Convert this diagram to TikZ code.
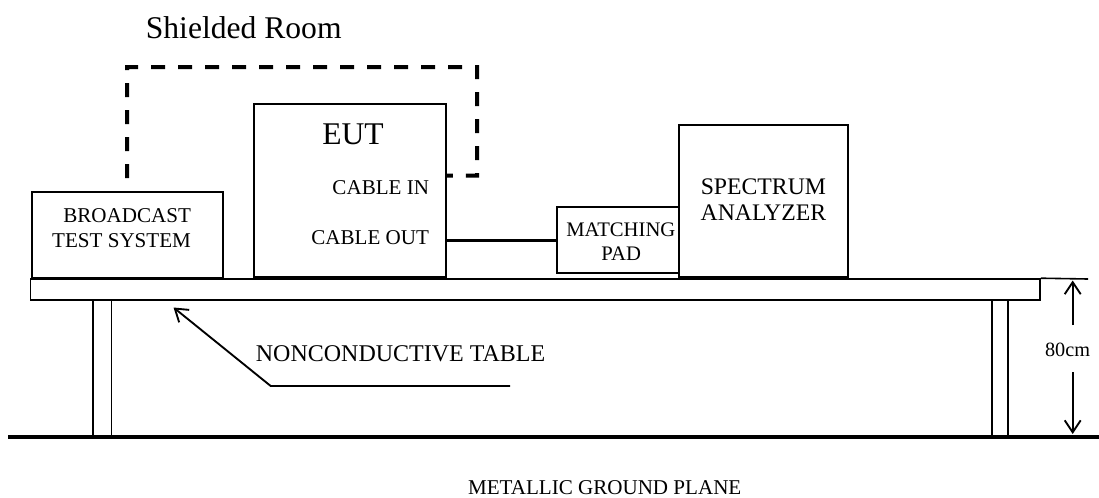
\documentclass[tikz,border=0pt]{standalone}
\usepackage{fontspec}
\setmainfont{Liberation Serif}
\usetikzlibrary{arrows.meta,calc}
\begin{document}
\begin{tikzpicture}[x=0.75pt,y=-0.75pt,
  box/.style={draw,line width=1.5pt,inner sep=0pt,minimum width=#1},
  tablepart/.style={draw,line width=1.2pt,inner sep=0pt},
  lbl/.style={inner sep=0pt,font=\fontsize{15.8}{19}\selectfont},
  midlbl/.style={inner sep=0pt,font=\fontsize{17.8}{21}\selectfont},
  biglbl/.style={inner sep=0pt,font=\fontsize{23.7}{28}\selectfont},
  room/.style={line width=3pt,dash pattern=on 10.5pt off 9.75pt,dash phase=10.5pt},
  cable/.style={line width=2.6pt},
  pointer/.style={line width=1.4pt,-{Straight Barb[length=9pt,width=12pt]}},
]
\useasboundingbox (0,0) rectangle (1099,497);

% equipment boxes
\node[box=143.25pt,minimum height=64.5pt] (bts) at (127.2,235) {};
\node[box=143.8pt,minimum height=129.5pt] (eut) at (349.85,190.35) {};
\node[box=91.5pt,minimum height=49.5pt] (pad) at (618.3,240.3) {};
\node[box=126.5pt,minimum height=113.8pt] (sa) at (763.35,200.85) {};

% table
\node[tablepart,minimum width=757pt,minimum height=15.75pt] (tbl) at (535.3,289.5) {};
\node[tablepart,minimum width=14pt,minimum height=103.5pt] (legL) at (102.35,369) {};
\node[tablepart,minimum width=12pt,minimum height=103.5pt] (legR) at (999.7,369) {};

% texts
\node[biglbl,anchor=base west] (title) at (145.6,38) {Shielded Room};
\node[biglbl,anchor=base] (euttxt) at (353,144) {EUT};
\node[lbl,anchor=base east] (cintxt) at (429.3,194.3) {CABLE IN};
\node[lbl,anchor=base east] (couttxt) at (429.3,244.3) {CABLE OUT};
\node[lbl,anchor=base east] (bts1) at (191.2,222) {BROADCAST};
\node[lbl,anchor=base east] (bts2) at (191.2,247) {TEST SYSTEM};
\node[lbl,anchor=base,font=\fontsize{15.5}{19}\selectfont] (pad1) at (620.8,236.7) {MATCHING};
\node[lbl,anchor=base,font=\fontsize{15.5}{19}\selectfont] (pad2) at (621.2,260) {PAD};
\node[midlbl,anchor=base] (sa1) at (763.4,194) {SPECTRUM};
\node[midlbl,anchor=base] (sa2) at (763.4,220.7) {ANALYZER};
\node[inner sep=0pt,anchor=base west,font=\fontsize{18}{22}\selectfont] (nct) at (255.6,361) {NONCONDUCTIVE TABLE};
\node[inner sep=0pt,anchor=base,font=\fontsize{15.2}{18}\selectfont] (dim) at (1067.5,356.7) {80cm};
\node[lbl,anchor=base] (gp) at (604.7,494.5) {METALLIC GROUND PLANE};

% shielded room cable (dashed)
\coordinate (cinpt) at ($(eut.north east)+(0,72.7)$);
\draw[room] (bts.north) -- ++(0,-124) -- ++(350,0) -- ++(0,108.7) -- (cinpt);

% cable out to matching pad
\draw[cable] (eut.east |- pad.west) -- (pad.west);

% ground plane
\coordinate (gl) at (8.4,437);
\coordinate (gr) at (1099,437);
\draw[line width=3.4pt] (gl) -- (gr);

% dimension
\coordinate (ext) at (1088,279);
\draw[line width=1.2pt] (tbl.north east) -- (ext);
\coordinate (upstart) at (1072.7,325);
\coordinate (uptip) at (1072.7,280.5);
\coordinate (dnstart) at (1072.7,372);
\coordinate (dntip) at (1072.7,434);
\draw[pointer] (upstart) -- (uptip);
\draw[pointer] (dnstart) -- (dntip);

% nonconductive table leader
\coordinate (ldend) at (510,386);
\coordinate (ldknee) at (270.7,386);
\draw[pointer] (ldend) -- (ldknee) -- ($(tbl.south west)+(143.7,6.7)$);
\end{tikzpicture}
\end{document}
